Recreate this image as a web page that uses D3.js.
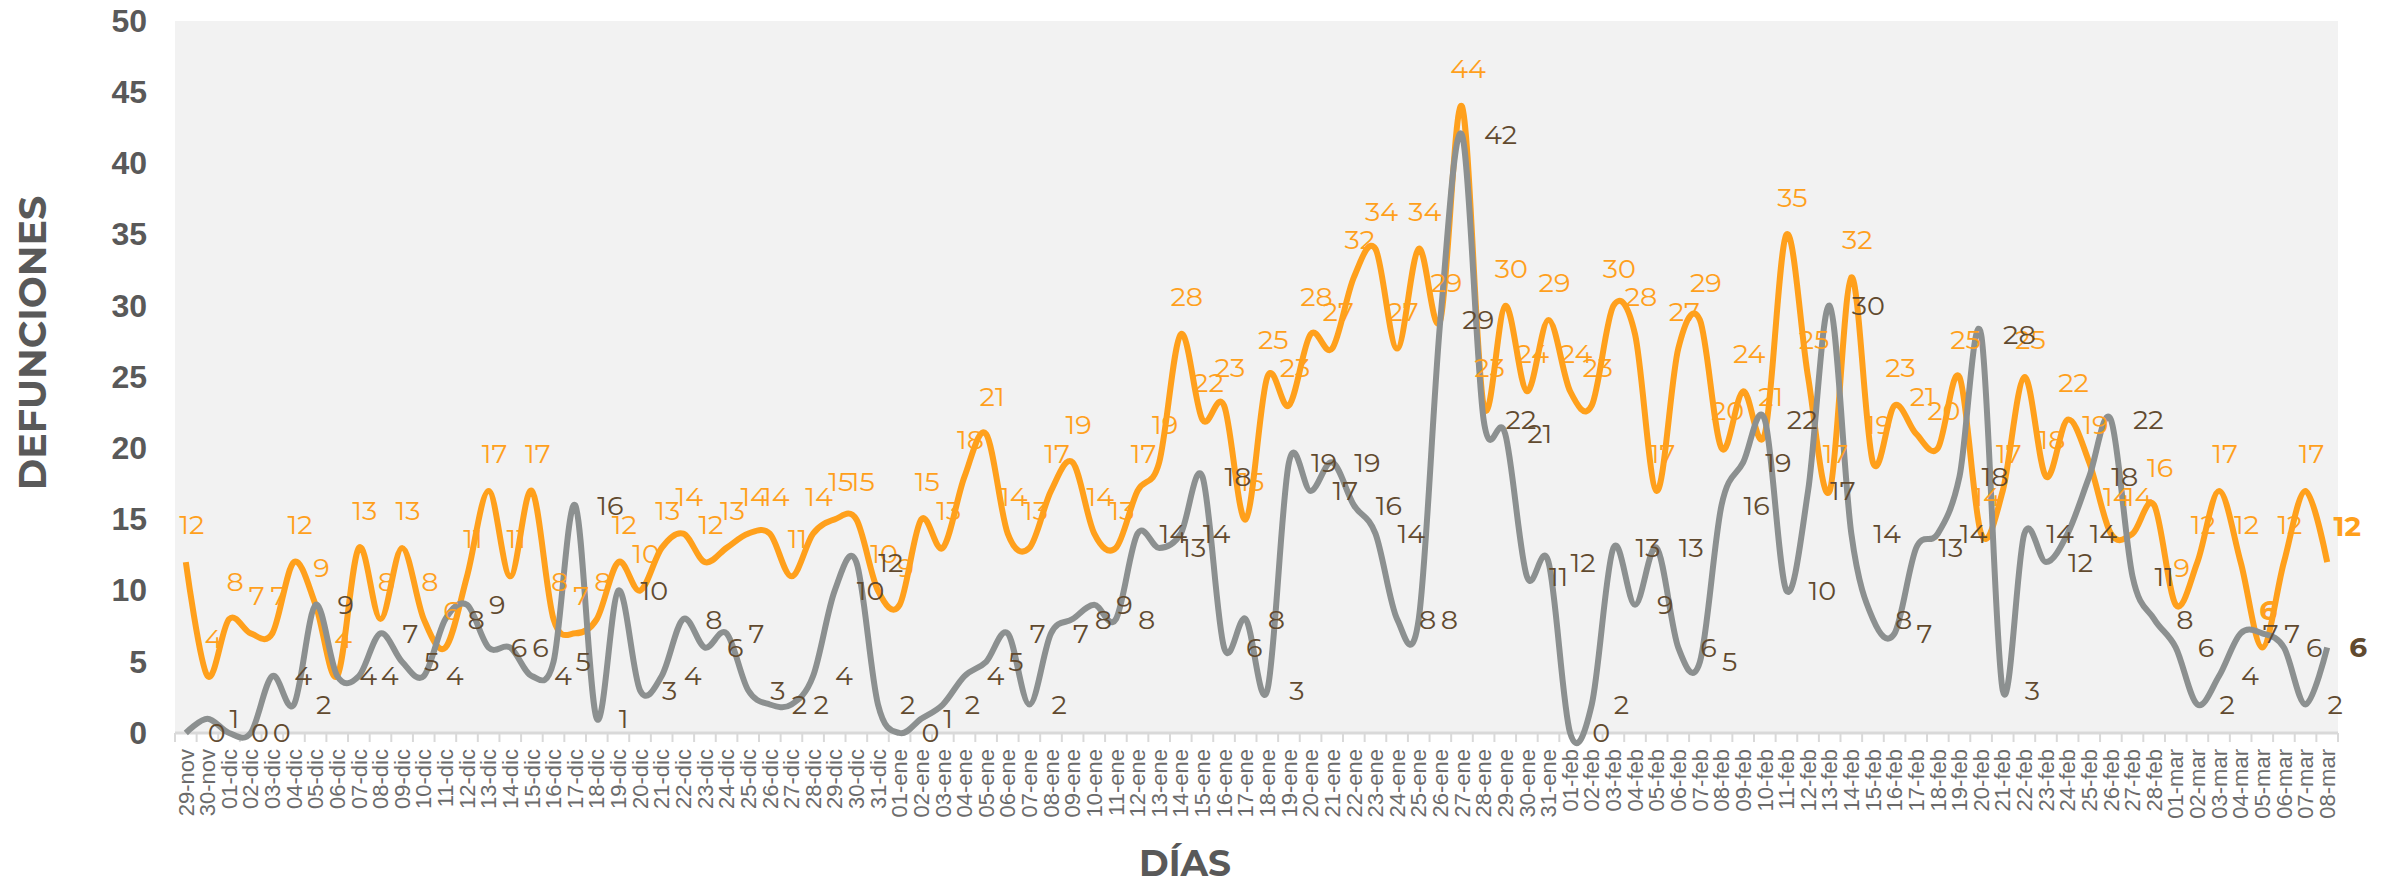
<!DOCTYPE html>
<html lang="es">
<head>
  <meta charset="UTF-8">
  <title>Defunciones por día</title>
  <script src="https://cdn.jsdelivr.net/npm/d3@7"></script>
  <style>
    body { margin: 0; background: #fff; }
    svg { display: block; font-family: Montserrat, Inter, "Open Sans", sans-serif; }
    .tick-x text { fill: #6b6b6b; font-size: 22px; }
    .tick-y text { fill: #595959; font-size: 32px; font-weight: 600; }
    .title { fill: #595959; font-weight: 700; }
  </style>
</head>
<body>
<svg id="chart"></svg>
<script>
const dias = [
  "29-nov", "30-nov",
  "01-dic", "02-dic", "03-dic", "04-dic", "05-dic", "06-dic", "07-dic", "08-dic", "09-dic", "10-dic",
  "11-dic", "12-dic", "13-dic", "14-dic", "15-dic", "16-dic", "17-dic", "18-dic", "19-dic", "20-dic",
  "21-dic", "22-dic", "23-dic", "24-dic", "25-dic", "26-dic", "27-dic", "28-dic", "29-dic", "30-dic", "31-dic",
  "01-ene", "02-ene", "03-ene", "04-ene", "05-ene", "06-ene", "07-ene", "08-ene", "09-ene", "10-ene",
  "11-ene", "12-ene", "13-ene", "14-ene", "15-ene", "16-ene", "17-ene", "18-ene", "19-ene", "20-ene",
  "21-ene", "22-ene", "23-ene", "24-ene", "25-ene", "26-ene", "27-ene", "28-ene", "29-ene", "30-ene", "31-ene",
  "01-feb", "02-feb", "03-feb", "04-feb", "05-feb", "06-feb", "07-feb", "08-feb", "09-feb", "10-feb",
  "11-feb", "12-feb", "13-feb", "14-feb", "15-feb", "16-feb", "17-feb", "18-feb", "19-feb", "20-feb",
  "21-feb", "22-feb", "23-feb", "24-feb", "25-feb", "26-feb", "27-feb", "28-feb",
  "01-mar", "02-mar", "03-mar", "04-mar", "05-mar", "06-mar", "07-mar", "08-mar"
];

// serie naranja (etiquetas encima)
const serieNaranja = [
  12, 4,
  8, 7, 7, 12, 9, 4, 13, 8, 13, 8,
  6, 11, 17, 11, 17, 8, 7, 8, 12, 10,
  13, 14, 12, 13, 14, 14, 11, 14, 15, 15, 10,
  9, 15, 13, 18, 21, 14, 13, 17, 19, 14,
  13, 17, 19, 28, 22, 23, 15, 25, 23, 28,
  27, 32, 34, 27, 34, 29, 44, 23, 30, 24, 29,
  24, 23, 30, 28, 17, 27, 29, 20, 24, 21,
  35, 25, 17, 32, 19, 23, 21, 20, 25, 14,
  17, 25, 18, 22, 19, 14, 14, 16,
  9, 12, 17, 12, 6, 12, 17, 12
];

// serie gris (etiquetas a la derecha)
const serieGris = [
  0, 1,
  0, 0, 4, 2, 9, 4, 4, 7, 5, 4,
  8, 9, 6, 6, 4, 5, 16, 1, 10, 3,
  4, 8, 6, 7, 3, 2, 2, 4, 10, 12, 2,
  0, 1, 2, 4, 5, 7, 2, 7, 8, 9,
  8, 14, 13, 14, 18, 6, 8, 3, 19, 17,
  19, 16, 14, 8, 8, 29, 42, 22, 21, 11, 12,
  0, 2, 13, 9, 13, 6, 5, 16, 19, 22,
  10, 17, 30, 14, 8, 7, 13, 14, 18, 28,
  3, 14, 12, 14, 18, 22, 11, 8,
  6, 2, 4, 7, 7, 6, 2, 6
];

const yTicks = [0, 5, 10, 15, 20, 25, 30, 35, 40, 45, 50];
const negritaNaranja = ["05-mar", "08-mar"];
const negritaGris = ["08-mar"];

const W = 2382, H = 884;
const margin = { top: 21, right: 44, bottom: 151, left: 175 };
const width = W - margin.left - margin.right;
const height = H - margin.top - margin.bottom;

const svg = d3.select("#chart").attr("width", W).attr("height", H);
const g = svg.append("g").attr("transform", `translate(${margin.left},${margin.top})`);

const x = d3.scaleBand().domain(dias).range([0, width]);
const y = d3.scaleLinear().domain([0, 50]).range([height, 0]);
const cx = d => x(d) + x.bandwidth() / 2;

g.append("rect")
  .attr("width", width).attr("height", height)
  .attr("fill", "#f2f2f2");

// eje y
g.append("g")
  .attr("class", "tick-y")
  .call(d3.axisLeft(y).tickValues(yTicks).tickSize(0).tickPadding(28))
  .call(a => a.select(".domain").remove());

// eje x
const xAxis = g.append("g")
  .attr("class", "tick-x")
  .attr("transform", `translate(0,${height})`)
  .call(d3.axisBottom(x).tickSize(0));
xAxis.select(".domain").remove();
xAxis.selectAll("text")
  .attr("transform", "rotate(-90)")
  .attr("text-anchor", "end")
  .attr("x", -16).attr("y", 0).attr("dy", "0.35em");

g.append("g").selectAll("line")
  .data(d3.range(dias.length + 1))
  .join("line")
  .attr("x1", i => i * x.step()).attr("x2", i => i * x.step())
  .attr("y1", height).attr("y2", height + 9)
  .attr("stroke", "#d9d9d9").attr("stroke-width", 2);

g.append("line")
  .attr("x1", 0).attr("x2", width)
  .attr("y1", height).attr("y2", height)
  .attr("stroke", "#d9d9d9").attr("stroke-width", 3);

const linea = d3.line()
  .x((d, i) => cx(dias[i]))
  .y(d => y(d))
  .curve(d3.curveCatmullRom.alpha(0));

g.append("path")
  .datum(serieNaranja)
  .attr("fill", "none")
  .attr("stroke", "#ffa01c")
  .attr("stroke-width", 6)
  .attr("stroke-linejoin", "round")
  .attr("d", linea);

g.append("path")
  .datum(serieGris)
  .attr("fill", "none")
  .attr("stroke", "#8c9090")
  .attr("stroke-width", 6)
  .attr("stroke-linejoin", "round")
  .attr("d", linea);

// etiquetas
g.append("g").selectAll("text")
  .data(serieNaranja)
  .join("text")
  .attr("x", (d, i) => cx(dias[i]) + (dias[i] === "08-mar" ? 20 : 6))
  .attr("y", (d, i) => y(d) - (dias[i] === "08-mar" ? 26 : 28))
  .attr("text-anchor", "middle")
  .attr("fill", "#ffa01c")
  .attr("font-size", (d, i) => negritaNaranja.includes(dias[i]) ? 28 : 27)
  .attr("font-weight", (d, i) => negritaNaranja.includes(dias[i]) ? 700 : 400)
  .text(d => d);

g.append("g").selectAll("text")
  .data(serieGris)
  .join("text")
  .attr("x", (d, i) => cx(dias[i]) + 22)
  .attr("y", d => y(d))
  .attr("dy", "0.35em")
  .attr("fill", "#614a2f")
  .attr("font-size", (d, i) => negritaGris.includes(dias[i]) ? 28 : 27)
  .attr("font-weight", (d, i) => negritaGris.includes(dias[i]) ? 700 : 400)
  .text(d => d);

// títulos
svg.append("text")
  .attr("class", "title")
  .attr("transform", `translate(46,343) rotate(-90)`)
  .attr("text-anchor", "middle")
  .attr("font-size", 38)
  .text("DEFUNCIONES");

svg.append("text")
  .attr("class", "title")
  .attr("x", 1185).attr("y", 876)
  .attr("text-anchor", "middle")
  .attr("font-size", 36)
  .text("DÍAS");
</script>
</body>
</html>
